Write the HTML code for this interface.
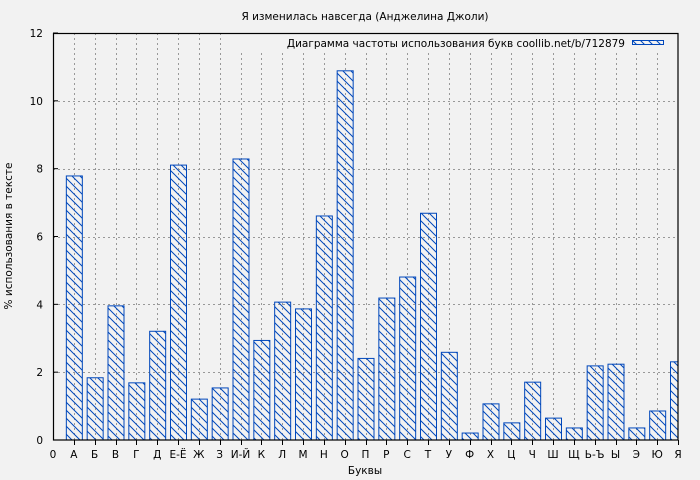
<!DOCTYPE html>
<html><head><meta charset="utf-8"><style>body{margin:0;background:#f2f2f2}svg{display:block;font-family:"DejaVu Sans","Liberation Sans",sans-serif}</style></head><body>
<svg width="700" height="480" viewBox="0 0 700 480" xmlns="http://www.w3.org/2000/svg">
<defs>
<pattern id="h" patternUnits="userSpaceOnUse" width="8" height="8">
<path d="M-2,-2 L10,10 M-2,6 L2,10 M6,-2 L10,2" stroke="#0047bb" stroke-width="1"/>
</pattern>
<clipPath id="c"><rect x="53" y="33" width="625" height="407"/></clipPath>
</defs>
<rect width="700" height="480" fill="#f2f2f2"/>
<text x="365" y="20" font-size="10.5" text-anchor="middle">Я изменилась навсегда (Анджелина Джоли)</text>
<g id="grid" stroke="#999" stroke-dasharray="2,3" stroke-width="1"></g>
<g id="bars" clip-path="url(#c)"></g>
<rect x="240" y="34" width="437" height="17" fill="#f2f2f2"/>
<rect x="53.5" y="33.5" width="624.5" height="406.5" fill="none" stroke="#000" stroke-width="1.2"/>
<g id="ax" font-size="10.5"></g>
<text x="625" y="47" font-size="10.5" text-anchor="end">Диаграмма частоты использования букв coollib.net/b/712879</text>
<rect x="632.5" y="40.5" width="31" height="4" fill="url(#h)" stroke="#0047bb"/>
<text x="365" y="474" font-size="10.5" text-anchor="middle">Буквы</text>
<text transform="translate(12,236) rotate(-90)" font-size="10.5" text-anchor="middle">% использования в тексте</text>
</svg>
<script>
var L=["А","Б","В","Г","Д","Е-Ё","Ж","З","И-Й","К","Л","М","Н","О","П","Р","С","Т","У","Ф","Х","Ц","Ч","Ш","Щ","Ь-Ъ","Ы","Э","Ю","Я"];
var V=[7.8,1.85,3.97,1.7,3.22,8.12,1.22,1.55,8.3,2.95,4.08,3.88,6.62,10.9,2.42,4.2,4.82,6.7,2.6,0.22,1.08,0.52,1.72,0.66,0.37,2.2,2.25,0.37,0.87,2.32];
var ns="http://www.w3.org/2000/svg",step=625/30,g=document.getElementById("grid"),b=document.getElementById("bars"),a=document.getElementById("ax");
function el(p,t,at,tx){var e=document.createElementNS(ns,t);for(var k in at)e.setAttribute(k,at[k]);if(tx!=null)e.textContent=tx;p.appendChild(e);}
function Y(v){return 440-v*407/12;}
for(var i=1;i<6;i++){var y=Math.round(Y(i*2))+.5;el(g,"line",{x1:53,x2:678,y1:y,y2:y});}
for(var i=0;i<=6;i++){var y=Y(i*2);el(a,"line",{x1:53,x2:58,y1:y,y2:y,stroke:"#000"});el(a,"text",{x:43,y:y+4,"text-anchor":"end"},String(i*2));}
el(a,"text",{x:53,y:458,"text-anchor":"middle"},"0");
for(var i=0;i<30;i++){var x=53+(i+1)*step,xr=Math.round(x)+.5;
if(i<29)el(g,"line",{x1:xr,x2:xr,y1:33,y2:440});
el(b,"rect",{x:x-8+.5,y:Y(V[i])+.5,width:16,height:440-Y(V[i]),fill:"url(#h)",stroke:"#0047bb","stroke-width":1});
el(a,"line",{x1:xr,x2:xr,y1:440,y2:445,stroke:"#000"});
el(a,"text",{x:x,y:458,"text-anchor":"middle"},L[i]);}
</script>
</body></html>
